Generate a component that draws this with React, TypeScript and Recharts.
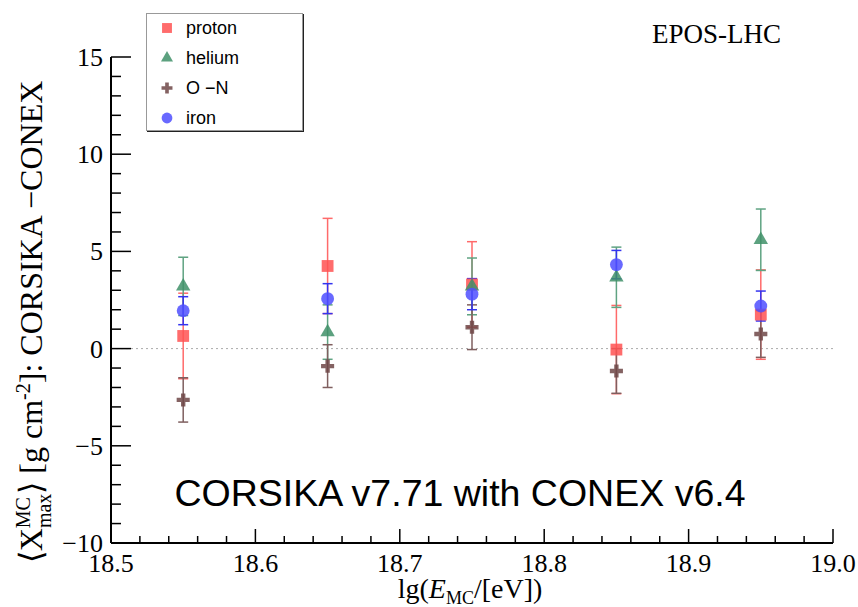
import React from 'react'
import { ScatterChart, Scatter, XAxis, YAxis, ErrorBar, ReferenceLine, Symbols } from 'recharts'

// lg(E/eV) bin centres
const energies = [18.55, 18.65, 18.75, 18.85, 18.95]

// <Xmax> difference CORSIKA - CONEX, g/cm^2
const protonMean = [0.65, 4.25, 3.3, -0.05, 1.75]
const protonErr = [2.2, 2.45, 2.2, 2.27, 2.3]
const heliumMean = [3.2, 0.85, 3.2, 3.67, 5.6]
const heliumErr = [1.5, 1.4, 1.46, 1.55, 1.58]
const oxygenMean = [-2.64, -0.9, 1.1, -1.15, 0.75]
const oxygenErr = [1.14, 1.1, 1.15, 1.15, 1.2]
const ironMean = [1.95, 2.57, 2.8, 4.32, 2.19]
const ironErr = [0.72, 0.77, 0.8, 0.73, 0.77]

const xMajorTicks = [18.5, 18.6, 18.7, 18.8, 18.9, 19.0]
const yMajorTicks = [-10, -5, 0, 5, 10, 15]

// minor ticks: 4 between x majors, 4 between y majors
const xTicks = xMajorTicks.flatMap((t, i) =>
  i === xMajorTicks.length - 1 ? [t] : [0, 1, 2, 3, 4].map((k) => +(t + k * 0.02).toFixed(2))
)
const yTicks = yMajorTicks.flatMap((t, i) =>
  i === yMajorTicks.length - 1 ? [t] : [0, 1, 2, 3, 4].map((k) => t + k)
)

const SERIF = '"Liberation Serif", "Times New Roman", serif'
const SANS = '"Liberation Sans", Arial, sans-serif'

const toPoints = (mean: number[], err: number[]) =>
  energies.map((x, i) => ({ x, y: mean[i], err: err[i] }))

const series = [
  { name: 'proton', label: 'proton', data: toPoints(protonMean, protonErr), type: 'square', size: 140, fill: '#ff5252', bar: '#ff6a6a' },
  { name: 'helium', label: 'helium', data: toPoints(heliumMean, heliumErr), type: 'triangle', size: 90, fill: '#3f9068', bar: '#5fa382' },
  { name: 'on', label: 'O \u2212N', data: toPoints(oxygenMean, oxygenErr), type: 'cross', size: 95, fill: '#6e4646', bar: '#7f5f5f' },
  { name: 'iron', label: 'iron', data: toPoints(ironMean, ironErr), type: 'circle', size: 130, fill: '#4f4fff', bar: '#3434f0' },
]

const fmtY = (v: number) => (v < 0 ? '\u2212' + Math.abs(v) : String(v))

const BottomTick = (p: any) => {
  const v = p.payload.value
  const major = xMajorTicks.some((t) => Math.abs(t - v) < 1e-6)
  return (
    <g>
      <line x1={p.x} x2={p.x} y1={p.y} y2={p.y - (major ? 14 : 7)} stroke="#000" strokeWidth={1.5} />
      {major && (
        <text x={p.x} y={p.y + 29} textAnchor="middle" fontFamily={SERIF} fontSize={26} fill="#000">
          {v.toFixed(1)}
        </text>
      )}
    </g>
  )
}

const TopTick = (p: any) => {
  const v = p.payload.value
  const major = xMajorTicks.some((t) => Math.abs(t - v) < 1e-6)
  return <line x1={p.x} x2={p.x} y1={p.y} y2={p.y + (major ? 14 : 7)} stroke="#000" strokeWidth={1.5} />
}

const LeftTick = (p: any) => {
  const v = p.payload.value
  const major = v % 5 === 0
  return (
    <g>
      <line x1={p.x} x2={p.x + (major ? 20 : 10)} y1={p.y} y2={p.y} stroke="#000" strokeWidth={1.5} />
      {major && (
        <text x={p.x - 8} y={p.y + 9} textAnchor="end" fontFamily={SERIF} fontSize={26} fill="#000">
          {fmtY(v)}
        </text>
      )}
    </g>
  )
}

const RightTick = (p: any) => {
  const v = p.payload.value
  const major = v % 5 === 0
  return <line x1={p.x} x2={p.x - (major ? 20 : 10)} y1={p.y} y2={p.y} stroke="#000" strokeWidth={1.5} />
}

const YTitle = () => (
  <text
    x={42}
    y={322}
    transform="rotate(-90 42 322)"
    textAnchor="middle"
    fontFamily={SERIF}
    fontSize={32}
    fill="#000"
  >
    <tspan>{'\u27e8X'}</tspan>
    <tspan fontSize={20} dy={-12}>MC</tspan>
    <tspan fontSize={20} dx={-31} dy={21}>max</tspan>
    <tspan dy={-9}>{'\u27e9 [g cm'}</tspan>
    <tspan fontSize={20} dy={-12}>-2</tspan>
    <tspan dy={12}>{']: CORSIKA  \u2212CONEX'}</tspan>
  </text>
)

const XTitle = () => (
  <text x={470} y={598} textAnchor="middle" fontFamily={SERIF} fontSize={28} fill="#000">
    <tspan>lg(</tspan>
    <tspan fontStyle="italic">E</tspan>
    <tspan fontSize={18} dy={6}>MC</tspan>
    <tspan dy={-6}>/[eV])</tspan>
  </text>
)

const marker = (type: any, size: number, fill: string) => (p: any) => (
  <Symbols cx={p.cx} cy={p.cy} type={type} size={size} fill={fill} fillOpacity={0.85} />
)

export default function App() {
  return (
    <div style={{ position: 'absolute', left: 0, top: 0, width: 858, height: 607, background: '#fff' }}>
      <ScatterChart width={858} height={607} margin={{ top: 57, right: 25, bottom: 24, left: 51 }}>
        <XAxis
          dataKey="x"
          type="number"
          domain={[18.5, 19]}
          ticks={xTicks}
          interval={0}
          allowDataOverflow
          height={40}
          tickSize={0}
          tickMargin={0}
          tickLine={false}
          tick={BottomTick}
          axisLine={{ stroke: '#000', strokeWidth: 2 }}
          label={<XTitle />}
        />
        <XAxis
          xAxisId="top"
          orientation="top"
          type="number"
          domain={[18.5, 19]}
          ticks={xTicks}
          interval={0}
          allowDataOverflow
          height={0}
          tickSize={0}
          tickMargin={0}
          tickLine={false}
          tick={TopTick}
          axisLine={{ stroke: '#000', strokeWidth: 2 }}
        />
        <YAxis
          dataKey="y"
          type="number"
          domain={[-10, 15]}
          ticks={yTicks}
          interval={0}
          allowDataOverflow
          width={60}
          tickSize={0}
          tickMargin={0}
          tickLine={false}
          tick={LeftTick}
          axisLine={{ stroke: '#000', strokeWidth: 2 }}
          label={<YTitle />}
        />
        <YAxis
          yAxisId="right"
          orientation="right"
          type="number"
          domain={[-10, 15]}
          ticks={yTicks}
          interval={0}
          allowDataOverflow
          width={0}
          tickSize={0}
          tickMargin={0}
          tickLine={false}
          tick={RightTick}
          axisLine={{ stroke: '#000', strokeWidth: 2 }}
        />
        <ReferenceLine y={0} stroke="#aaa" strokeDasharray="2 3" strokeWidth={1} />
        {series.map((s) => (
          <Scatter
            key={s.name}
            name={s.name}
            data={s.data}
            isAnimationActive={false}
            shape={marker(s.type, s.size, s.fill)}
          >
            <ErrorBar dataKey="err" direction="y" width={5} stroke={s.bar} strokeWidth={1.5} />
          </Scatter>
        ))}
      </ScatterChart>

      <svg
        width={858}
        height={607}
        style={{ position: 'absolute', left: 0, top: 0, pointerEvents: 'none' }}
      >
        <text x={781} y={43} textAnchor="end" fontFamily={SERIF} fontSize={27} fill="#000">
          EPOS-LHC
        </text>
        <text x={460} y={506} textAnchor="middle" fontFamily={SANS} fontSize={37.5} fill="#000">
          CORSIKA v7.71 with CONEX v6.4
        </text>
      </svg>

      <div
        style={{
          position: 'absolute',
          left: 146,
          top: 13,
          width: 155,
          height: 116,
          background: '#fff',
          border: '1px solid #999',
          boxShadow: '1px 1px 0 #222',
          fontFamily: SANS,
          fontSize: 18,
          color: '#000',
        }}
      >
        {series.map((s, i) => (
          <div
            key={s.name}
            style={{ position: 'absolute', left: 10, top: 2 + i * 30, height: 24, display: 'flex', alignItems: 'center' }}
          >
            <svg width={20} height={20} style={{ marginRight: 9 }}>
              <Symbols cx={10} cy={10} type={s.type as any} size={s.size * 0.7} fill={s.fill} fillOpacity={0.85} />
            </svg>
            <span>{s.label}</span>
          </div>
        ))}
      </div>
    </div>
  )
}
